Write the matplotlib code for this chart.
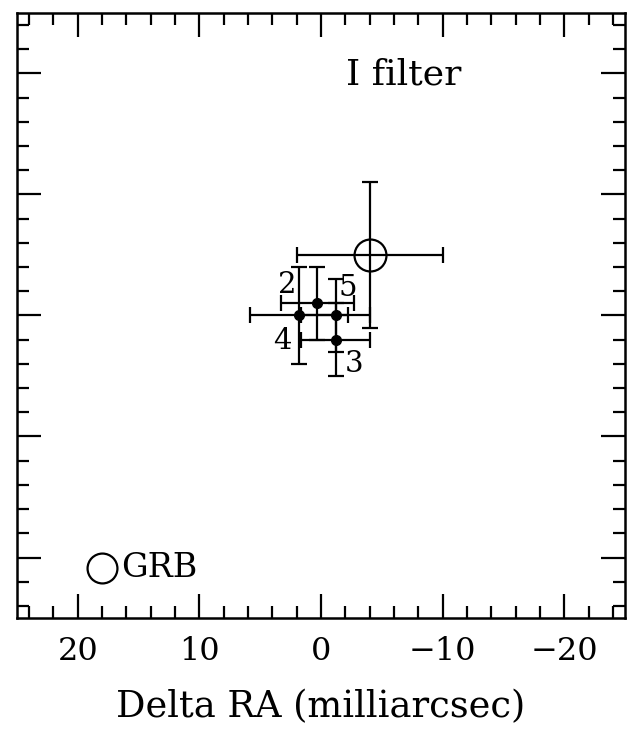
import matplotlib
matplotlib.use('Agg')
import matplotlib.pyplot as plt
from matplotlib.ticker import MultipleLocator

# GRB position and error (milliarcsec)
grb_x = [-4.0]
grb_y = [5.0]
grb_xerr = [6.0]
grb_yerr = [6.0]

# individual epochs
ids = ['2', '3', '4', '5']
px = [0.3, -1.2, 1.8, -1.2]
py = [1.0, -2.0, 0.0, 0.0]
pxerr = [3.0, 2.85, 4.0, 2.85]
pyerr = [3.0, 3.0, 4.0, 3.0]

plt.rcParams['font.family'] = ['DejaVu Serif']
fig = plt.figure(figsize=(6.37, 7.34), dpi=100)
ax = fig.add_axes([0.0267, 0.158, 0.9545, 0.8245])

ax.errorbar(px, py, xerr=pxerr, yerr=pyerr, fmt='o', color='black',
            ms=7, elinewidth=1.6, capsize=6, capthick=1.6)
ax.errorbar(grb_x, grb_y, xerr=grb_xerr, yerr=grb_yerr, fmt='o', color='black',
            mfc='none', mec='black', mew=1.6, ms=23, elinewidth=1.6,
            capsize=6, capthick=1.6)

# point labels
offs = [(2.45, 1.5), (-1.55, -2.05), (1.4, -2.1), (-1.0, 2.25)]
for i, (dx, dy) in zip(ids, offs):
    ax.text(px[ids.index(i)] + dx, py[ids.index(i)] + dy, i, fontsize=21,
            ha='center', va='center')

ax.text(-6.8, 19.9, 'I filter', fontsize=26, ha='center', va='center')

# legend symbol
ax.plot([18.0], [-20.9], 'o', mfc='none', mec='black', mew=1.6, ms=21.5)
ax.text(16.4, -20.9, 'GRB', fontsize=24, ha='left', va='center')

ax.set_xlim(25, -25)
ax.set_ylim(-25, 25)
ax.xaxis.set_major_locator(MultipleLocator(10))
ax.xaxis.set_minor_locator(MultipleLocator(2))
ax.yaxis.set_major_locator(MultipleLocator(10))
ax.yaxis.set_minor_locator(MultipleLocator(2))
ax.tick_params(which='both', direction='in', top=True, right=True,
               labelleft=False, width=1.6)
ax.tick_params(which='major', length=17)
ax.tick_params(which='minor', length=8.5)
ax.tick_params(axis='x', labelsize=23, pad=13)
for s in ax.spines.values():
    s.set_linewidth(1.8)

ax.set_xlabel('Delta RA (milliarcsec)', fontsize=26.5, labelpad=16)

fig.savefig('out.png', dpi=100)
